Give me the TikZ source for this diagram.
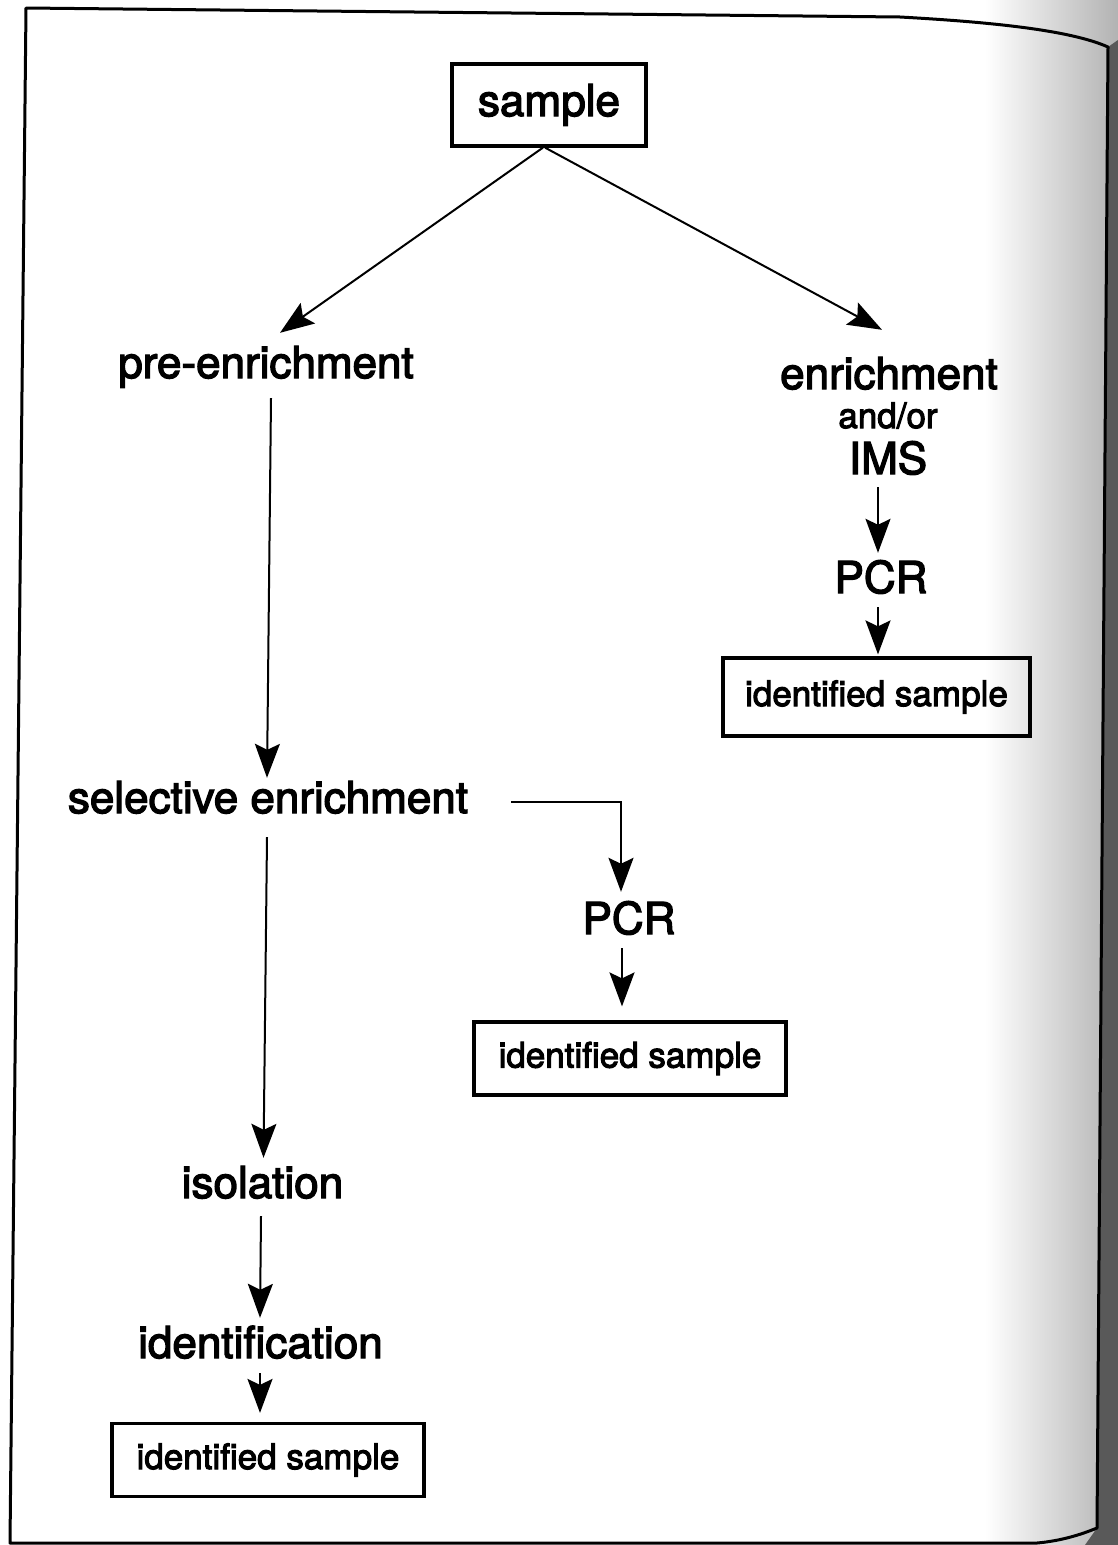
\documentclass[tikz,border=0pt]{standalone}
\usepackage{fontspec}
\setmainfont[FakeBold=3]{TeX Gyre Heros}
\usetikzlibrary{arrows.meta,calc}

\begin{document}
\begin{tikzpicture}[x=1pt,y=1pt,
  lg/.style={font=\fontsize{44}{48}\selectfont, inner sep=0pt, text height=32pt, text depth=10pt},
  sm/.style={font=\fontsize{35}{40}\selectfont, inner sep=0pt, text height=26pt, text depth=8pt},
  onbase/.style={anchor=base},
  box/.style={draw, line width=3.2pt, inner sep=0pt, anchor=center},
  arr/.style={line width=2pt, -{Stealth[length=34pt,width=25pt,inset=6pt]}},
  edge line/.style={line width=3pt, line join=round},
]
\useasboundingbox (0,0) rectangle (1118,-1545);

% shadow along the bound edge of the page
\shade[left color=white, right color=gray!60] (985,0) rectangle (1118,-1545);
\fill[black!65] (1108,-47) -- (1097,-1528) -- (1085,-1545) -- (1118,-1545) -- (1118,-40) -- cycle;

% page frame
\draw[edge line] (26,-8) -- (900,-17) .. controls (990,-22) and (1070,-30) .. (1108,-47)
  -- (1097,-1528) .. controls (1080,-1535) and (1060,-1541) .. (1037,-1543)
  -- (10,-1543) -- cycle;

% start
\node[box, lg, minimum width=194pt, minimum height=82pt] (sample) at (549,-105) {sample};

% left branch
\node[lg, onbase] (pre)   at (266,-378)   {pre-enrichment};
\node[lg, onbase] (sel)   at (268,-813)   {selective enrichment};
\node[lg, onbase] (iso)   at (262.5,-1198) {isolation};
\node[lg, onbase] (ident) at (260.5,-1358) {identification};
\node[box, sm, minimum width=312pt, minimum height=73pt] (idB) at (268,-1460) {identified sample};

% middle branch
\node[lg, onbase] (pcrM) at (629,-934) {PCR};
\node[box, sm, minimum width=312pt, minimum height=73pt] (idM) at (630,-1058.5) {identified sample};

% right branch
\node[lg, onbase] (enr)   at (889,-389) {enrichment};
\node[sm, onbase] (andor) at (888,-428) {and/or};
\node[lg, onbase] (ims)   at (888,-474) {IMS};
\node[lg, onbase] (pcrR)  at (881,-593) {PCR};
\node[box, sm, minimum width=307pt, minimum height=78pt] (idR) at (876.5,-697) {identified sample};

% connectors
\draw[arr] ([xshift=-6pt]sample.south) -- ([xshift=14pt,yshift=13pt]pre.north);
\draw[arr] ([xshift=-4pt]sample.south) -- ([xshift=-7pt,yshift=27pt]enr.north);

\draw[arr] ([xshift=5pt,yshift=-10pt]pre.south) -- ([xshift=-1pt,yshift=3pt]sel.north);
\draw[arr] ([xshift=-1pt,yshift=-14pt]sel.south) -- ([xshift=1pt,yshift=8pt]iso.north);
\draw[arr] ([xshift=-1.5pt,yshift=-8pt]iso.south) -- ([xshift=-0.5pt,yshift=8pt]ident.north);
\draw[arr] ([xshift=-0.5pt,yshift=-5pt]ident.south) -- ([xshift=-8pt,yshift=9pt]idB.north);

\draw[arr] ([xshift=43pt]sel.east) -| ([xshift=-8pt,yshift=10pt]pcrM.north);
\draw[arr] ([xshift=-7pt,yshift=-4pt]pcrM.south) -- ([xshift=-8pt,yshift=14pt]idM.north);

\draw[arr] ([xshift=-10pt,yshift=-3pt]ims.south) -- ([xshift=-3pt,yshift=8pt]pcrR.north);
\draw[arr] ([xshift=-3pt,yshift=-4pt]pcrR.south) -- ([xshift=1.5pt,yshift=2pt]idR.north);
\end{tikzpicture}
\end{document}
